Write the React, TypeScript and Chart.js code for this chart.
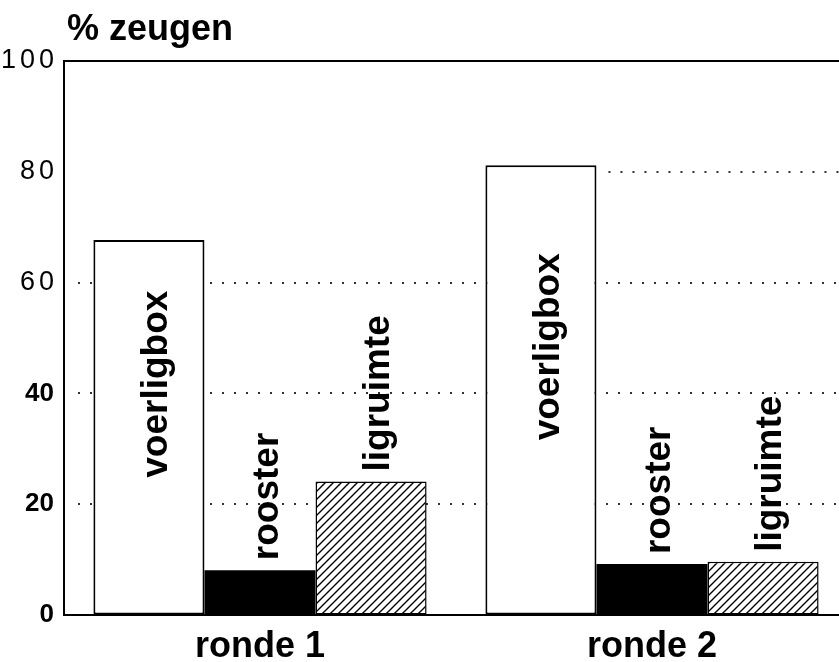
import React, { useEffect, useRef } from "react";
import { Chart, registerables } from "chart.js";

Chart.register(...registerables);

// ---- data ----
const categories = ["ronde 1", "ronde 2"];
const voerligbox = [67.7, 81.2];
const rooster = [8.1, 9.2];
const ligruimte = [24.1, 9.6];
const seriesNames = ["voerligbox", "rooster", "ligruimte"];
const yTicks = [0, 20, 40, 60, 80, 100];
const yTickLabels = ["0", "20", "40", "60", "80", "100"];
const yTitle = "% zeugen";

function makeHatch(): CanvasPattern | string {
  const c = document.createElement("canvas");
  c.width = 8;
  c.height = 8;
  const g = c.getContext("2d");
  if (!g) return "#888";
  g.fillStyle = "#fff";
  g.fillRect(0, 0, 8, 8);
  g.strokeStyle = "#000";
  g.lineWidth = 1.4;
  g.beginPath();
  g.moveTo(0, 8);
  g.lineTo(8, 0);
  g.moveTo(-2, 2);
  g.lineTo(2, -2);
  g.moveTo(6, 10);
  g.lineTo(10, 6);
  g.stroke();
  return g.createPattern(c, "repeat") || "#888";
}

const decorPlugin = {
  id: "decor",
  beforeDatasetsDraw(chart: any) {
    const { ctx, chartArea: a } = chart;
    const y = chart.scales.y;
    const tallMeta = chart.getDatasetMeta(0);
    ctx.save();
    ctx.strokeStyle = "#333";
    ctx.lineWidth = 2;
    ctx.setLineDash([2, 10]);
    yTicks.forEach((v) => {
      if (v === 0 || v === 100) return;
      const py = Math.round(y.getPixelForValue(v));
      let startX = a.left + 14;
      if (v === 80 && tallMeta.data[1]) {
        const b = tallMeta.data[1].getProps(["x", "width"], true);
        startX = b.x + b.width / 2 + 12;
      }
      ctx.beginPath();
      ctx.moveTo(startX, py);
      ctx.lineTo(a.right, py);
      ctx.stroke();
    });
    ctx.restore();
  },
  afterDatasetsDraw(chart: any) {
    const { ctx } = chart;
    chart.data.datasets.forEach((ds: any, di: number) => {
      const meta = chart.getDatasetMeta(di);
      meta.data.forEach((bar: any, j: number) => {
        const v = ds.data[j];
        const p = bar.getProps(["x", "y", "base"], true);
        ctx.save();
        ctx.font = "bold 37px 'Liberation Sans', Arial, sans-serif";
        ctx.fillStyle = "#000";
        ctx.textBaseline = "middle";
        if (v > 50) {
          ctx.translate(p.x + 8, (p.y + p.base) / 2 - 43);
          ctx.rotate(-Math.PI / 2);
          ctx.textAlign = "center";
        } else {
          ctx.translate(p.x + 8, p.y - 10);
          ctx.rotate(-Math.PI / 2);
          ctx.textAlign = "left";
        }
        ctx.fillText(ds.label, 0, 0);
        ctx.restore();
      });
    });
  },
  afterDraw(chart: any) {
    const { ctx, chartArea: a } = chart;
    const y = chart.scales.y;
    const x = chart.scales.x;
    ctx.save();
    // top border
    ctx.strokeStyle = "#000";
    ctx.lineWidth = 2;
    ctx.beginPath();
    ctx.moveTo(a.left - 1, a.top);
    ctx.lineTo(a.right, a.top);
    ctx.stroke();

    // title
    ctx.fillStyle = "#000";
    ctx.font = "bold 36px 'Liberation Sans', Arial, sans-serif";
    ctx.textAlign = "left";
    ctx.textBaseline = "alphabetic";
    ctx.fillText(yTitle, a.left + 3, a.top - 21);

    // y tick labels
    ctx.textAlign = "right";
    ctx.textBaseline = "middle";
    yTicks.forEach((v, i) => {
      const py = y.getPixelForValue(v);
      if (v >= 60) {
        ctx.font = "27px 'Liberation Sans', Arial, sans-serif";
        (ctx as any).letterSpacing = "4px";
        ctx.fillText(yTickLabels[i], a.left - 6, py);
        (ctx as any).letterSpacing = "0px";
      } else {
        ctx.font = "bold 26px 'Liberation Sans', Arial, sans-serif";
        ctx.fillText(yTickLabels[i], a.left - 10, py);
      }
    });

    // category labels
    ctx.font = "bold 36px 'Liberation Sans', Arial, sans-serif";
    ctx.textAlign = "center";
    ctx.textBaseline = "alphabetic";
    categories.forEach((c, i) => {
      ctx.fillText(c, x.getPixelForValue(i), a.bottom + 42);
    });
    ctx.restore();
  },
};

export default function App() {
  const ref = useRef<HTMLCanvasElement>(null);

  useEffect(() => {
    const canvas = ref.current;
    if (!canvas) return;
    const hatch = makeHatch();
    const chart = new Chart(canvas, {
      type: "bar",
      data: {
        labels: categories,
        datasets: [
          {
            label: seriesNames[0],
            data: voerligbox,
            backgroundColor: "#fff",
            borderColor: "#000",
            borderWidth: 2,
            borderSkipped: false,
            categoryPercentage: 0.85,
            barPercentage: 1,
          },
          {
            label: seriesNames[1],
            data: rooster,
            backgroundColor: "#000",
            borderColor: "#000",
            borderWidth: 0,
            categoryPercentage: 0.85,
            barPercentage: 1,
          },
          {
            label: seriesNames[2],
            data: ligruimte,
            backgroundColor: hatch as any,
            borderColor: "#000",
            borderWidth: 1.5,
            borderSkipped: false,
            categoryPercentage: 0.85,
            barPercentage: 1,
          },
        ],
      },
      options: {
        responsive: false,
        animation: false,
        devicePixelRatio: 1,
        layout: { padding: { left: 64, top: 61, right: 22, bottom: 47 } },
        plugins: {
          legend: { display: false },
          tooltip: { enabled: false },
          title: { display: false },
        },
        scales: {
          x: {
            type: "category",
            offset: true,
            grid: { display: true, color: "rgba(0,0,0,0)", drawTicks: false },
            border: { display: true, color: "#000", width: 2 },
            ticks: { display: false },
          },
          y: {
            min: 0,
            max: 100,
            ticks: { display: false, stepSize: 20 },
            grid: { display: true, color: "rgba(0,0,0,0)", drawTicks: false },
            border: { display: true, color: "#000", width: 2 },
          },
        },
      },
      plugins: [decorPlugin],
    });
    return () => chart.destroy();
  }, []);

  return (
    <div
      style={{
        position: "fixed",
        left: 0,
        top: 0,
        width: 839,
        height: 662,
        overflow: "hidden",
        background: "#fff",
      }}
    >
      <canvas ref={ref} width={870} height={662} style={{ display: "block" }} />
    </div>
  );
}
